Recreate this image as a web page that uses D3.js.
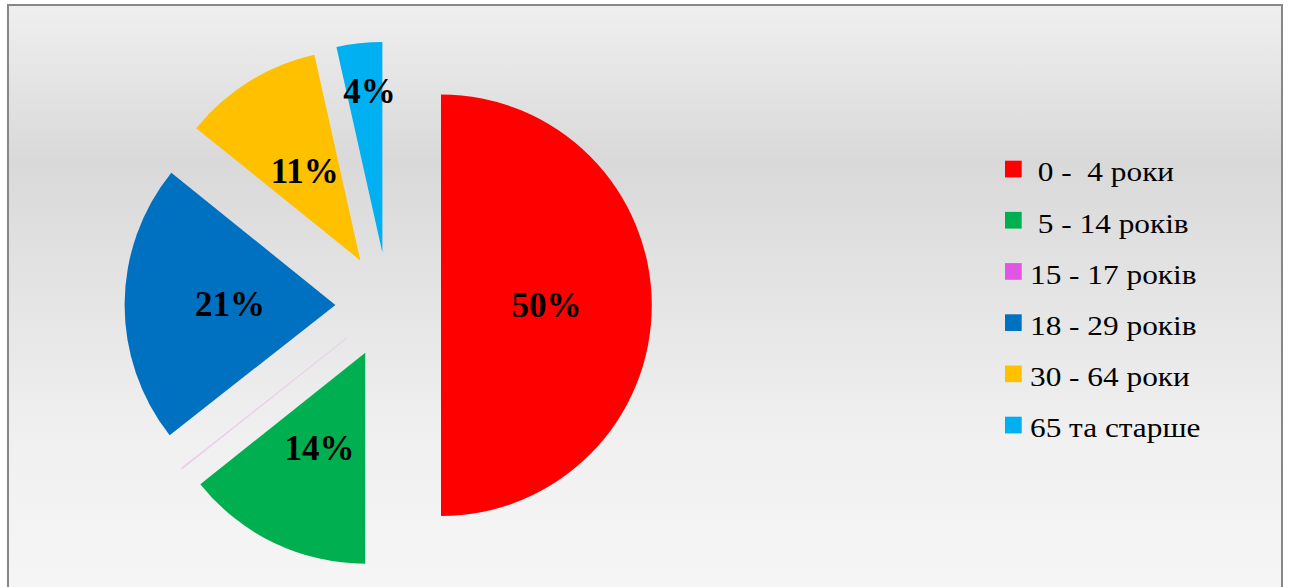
<!DOCTYPE html>
<html>
<head>
<meta charset="utf-8">
<script src="https://cdn.jsdelivr.net/npm/d3@7"></script>
<style>
  html, body { margin: 0; padding: 0; background: #ffffff; overflow: hidden; }
  svg { display: block; }
  text { font-family: "Liberation Serif", "Times New Roman", serif; }
</style>
</head>
<body>
<svg id="chart" width="1290" height="587"></svg>
<script>
// ---- data ----
const categories = [" 0 -  4 роки", " 5 - 14 років", "15 - 17 років", "18 - 29 років", "30 - 64 роки", "65 та старше"];
const values = [50, 14.3, 0.1, 21.4, 10.7, 3.5];
const colors = ["#ff0000", "#00b050", "#e056e0", "#0070c0", "#ffc000", "#00b0f0"];

const W = 1290, H = 587;
const svg = d3.select("#chart");

// background + frame
const defs = svg.append("defs");
const grad = defs.append("linearGradient").attr("id", "bg")
  .attr("x1", 0).attr("y1", 0).attr("x2", 0).attr("y2", 1);
[[0, "#efefef"], [0.26, "#d9d9d9"], [0.72, "#f0f0f0"], [1, "#f6f6f6"]].forEach(([o, c]) =>
  grad.append("stop").attr("offset", o).attr("stop-color", c));

svg.append("rect").attr("x", 8).attr("y", 5).attr("width", 1274).attr("height", 600)
  .attr("fill", "url(#bg)").attr("stroke", "#878787").attr("stroke-width", 2);

// pie
const cx = 388.2, cy = 305.3, R = 210.8, explode = 52.8;
const pie = d3.pie().sort(null).value(d => d).startAngle(0).endAngle(2 * Math.PI);
const arcs = pie(values);
const arc = d3.arc().innerRadius(0).outerRadius(R);
const g = svg.append("g").attr("transform", `translate(${cx},${cy})`);

const slices = g.selectAll("g.slice").data(arcs).join("g").attr("class", "slice")
  .attr("transform", d => {
    const a = (d.startAngle + d.endAngle) / 2;
    return `translate(${explode * Math.sin(a)},${-explode * Math.cos(a)})`;
  });

slices.append("path")
  .attr("d", arc)
  .attr("fill", (d, i) => colors[i])
  .attr("fill-opacity", d => d.value < 0.5 ? 0.25 : 1)
  .attr("stroke", d => d.value < 0.5 ? "#eccbec" : "none")
  .attr("stroke-width", 0.6);

const fmt = v => Math.round(v) + "%";
slices.filter(d => d.value >= 0.5).append("text")
  .attr("transform", d => {
    const small = d.value < 5;
    const k = small ? 0.77 : 0.5;
    const la = d3.arc().innerRadius(0).outerRadius(2 * k * R);
    const [x, y] = la.centroid(d);
    return `translate(${x + (small ? 5 : 0)},${y})`;
  })
  .attr("y", 12)
  .attr("text-anchor", "middle")
  .attr("font-weight", "bold")
  .attr("font-size", 35)
  .attr("fill", "#000")
  .text(d => fmt(d.value));

// legend
const legendY = d3.scalePoint().domain(categories).range([169, 425]);
const leg = svg.append("g");
const rows = leg.selectAll("g").data(categories).join("g")
  .attr("transform", d => `translate(0,${legendY(d)})`);
rows.append("rect").attr("x", 1005).attr("y", -8.3).attr("width", 16.7).attr("height", 16.7)
  .attr("fill", (d, i) => colors[i]);
rows.append("text")
  .attr("transform", "translate(1030,12.3) scale(1.16,1)")
  .attr("font-size", 27)
  .attr("fill", "#000")
  .style("white-space", "pre")
  .attr("xml:space", "preserve")
  .text(d => d);
</script>
</body>
</html>
